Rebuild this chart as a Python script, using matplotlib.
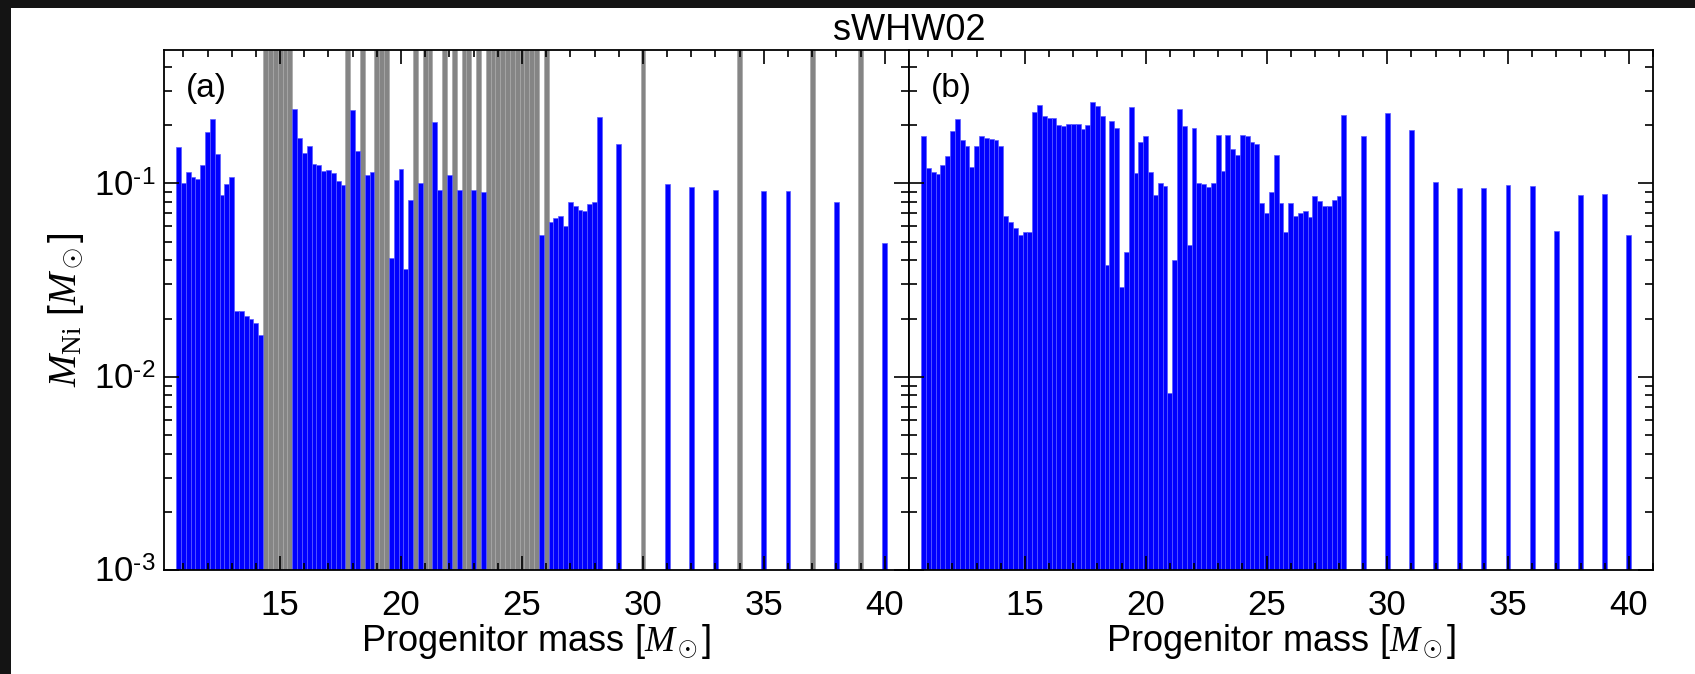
import matplotlib
matplotlib.use('Agg')
import matplotlib.pyplot as plt
from matplotlib.patches import Rectangle
from matplotlib.ticker import MultipleLocator, LogLocator, FuncFormatter, NullFormatter
import numpy as np
import math

plt.rcParams['font.family'] = ['Liberation Sans', 'DejaVu Sans']
plt.rcParams['mathtext.fontset'] = 'custom'
plt.rcParams['mathtext.rm'] = 'Liberation Sans'
plt.rcParams['mathtext.it'] = 'Liberation Serif:italic'
plt.rcParams['mathtext.sf'] = 'Liberation Serif'

# progenitor masses of the sWHW02 series
masses = [10.8, 11.0, 11.2, 11.4, 11.6, 11.8, 12.0, 12.2, 12.4, 12.6,
          12.8, 13.0, 13.2, 13.4, 13.6, 13.8, 14.0, 14.2, 14.4, 14.6,
          14.8, 15.0, 15.2, 15.4, 15.6, 15.8, 16.0, 16.2, 16.4, 16.6,
          16.8, 17.0, 17.2, 17.4, 17.6, 17.8, 18.0, 18.2, 18.4, 18.6,
          18.8, 19.0, 19.2, 19.4, 19.6, 19.8, 20.0, 20.2, 20.4, 20.6,
          20.8, 21.0, 21.2, 21.4, 21.6, 21.8, 22.0, 22.2, 22.4, 22.6,
          22.8, 23.0, 23.2, 23.4, 23.6, 23.8, 24.0, 24.2, 24.4, 24.6,
          24.8, 25.0, 25.2, 25.4, 25.6, 25.8, 26.0, 26.2, 26.4, 26.6,
          26.8, 27.0, 27.2, 27.4, 27.6, 27.8, 28.0, 28.2,
          29, 30, 31, 32, 33, 34, 35, 36, 37, 38, 39, 40]

# (a) Ni mass; None = no explosion (black hole, drawn grey)
ni_a = [0.155, 0.100, 0.114, 0.108, 0.106, 0.125, 0.184, 0.216, 0.142, 0.087,
        0.099, 0.108, 0.022, 0.022, 0.0205, 0.020, 0.019, 0.0165, None, None,
        None, None, None, None, 0.243, 0.172, 0.143, 0.157, 0.126, 0.124,
        0.116, 0.118, 0.113, 0.103, 0.098, None, 0.240, 0.147, None, 0.110,
        0.115, None, None, None, 0.041, 0.104, 0.119, 0.036, 0.082, None,
        0.100, None, None, 0.207, 0.093, None, 0.110, None, 0.092, None,
        None, 0.092, None, 0.090, None, None, None, None, None, None,
        None, None, None, None, None, 0.054, None, 0.063, 0.066, 0.068,
        0.060, 0.080, 0.076, 0.073, 0.072, 0.078, 0.080, 0.220,
        0.159, None, 0.099, 0.096, 0.093, None, 0.091, 0.091, None, 0.080, None, 0.049]

# (b) all models explode
ni_b = [0.175, 0.120, 0.114, 0.112, 0.125, 0.138, 0.186, 0.216, 0.168, 0.157,
        0.121, 0.157, 0.175, 0.171, 0.170, 0.167, 0.157, 0.068, 0.063, 0.059,
        0.054, 0.056, 0.056, 0.234, 0.256, 0.224, 0.218, 0.217, 0.201, 0.198,
        0.203, 0.203, 0.203, 0.191, 0.201, 0.265, 0.250, 0.224, 0.038, 0.211,
        0.193, 0.029, 0.044, 0.249, 0.113, 0.164, 0.175, 0.114, 0.087, 0.100,
        0.097, 0.0082, 0.040, 0.243, 0.197, 0.048, 0.194, 0.100, 0.099, 0.096,
        0.100, 0.179, 0.116, 0.179, 0.151, 0.141, 0.177, 0.175, 0.164, 0.160,
        0.079, 0.070, 0.090, 0.140, 0.079, 0.056, 0.079, 0.068, 0.070, 0.072,
        0.067, 0.086, 0.081, 0.076, 0.076, 0.082, 0.086, 0.226,
        0.176, 0.231, 0.189, 0.102, 0.095, 0.095, 0.098, 0.097, 0.057, 0.087, 0.088, 0.054]

ymin, ymax = 1e-3, 0.49
xlo, xhi = 10.2, 41.0

fig = plt.figure(figsize=(16.95, 6.74), dpi=100, facecolor='#141414')
fig.patches.append(Rectangle((11 / 1695, 0), 1, 1 - 8 / 674, transform=fig.transFigure,
                             facecolor='white', edgecolor='none', zorder=-10))

ax_a = fig.add_axes([164 / 1695, 1 - 570 / 674, 745 / 1695, 520 / 674])
ax_b = fig.add_axes([909 / 1695, 1 - 570 / 674, 744 / 1695, 520 / 674])


def decade_label(y, pos):
    # IDL style: 10 with a short hyphen in the exponent
    return '10$^{\u2010%d}$' % round(-math.log10(y))


def draw_panel(ax, vals, label):
    ok_m = [m for m, v in zip(masses, vals) if v is not None]
    ok_v = [v for v in vals if v is not None]
    bh_m = [m for m, v in zip(masses, vals) if v is None]
    ax.set_yscale('log')
    if bh_m:
        ax.bar(bh_m, 1.0 - ymin, bottom=ymin, width=0.2, color='#858585',
               edgecolor='#a8a8a8', linewidth=0.5)
    ax.bar(ok_m, np.array(ok_v) - ymin, bottom=ymin, width=0.2, color='#0000ff',
           edgecolor='#5c5cff', linewidth=0.5)
    ax.set_xlim(xlo, xhi)
    ax.set_ylim(ymin, ymax)
    ax.xaxis.set_major_locator(MultipleLocator(5))
    ax.xaxis.set_minor_locator(MultipleLocator(1))
    ax.yaxis.set_major_locator(LogLocator(base=10))
    ax.yaxis.set_minor_locator(LogLocator(base=10, subs=np.arange(2, 10)))
    ax.yaxis.set_major_formatter(FuncFormatter(decade_label))
    ax.yaxis.set_minor_formatter(NullFormatter())
    ax.tick_params(which='both', direction='in', top=True, right=True, width=1.2,
                   labelsize=25, colors='black')
    ax.tick_params(axis='x', which='major', length=10, pad=14)
    ax.tick_params(axis='x', which='minor', length=5)
    ax.tick_params(axis='y', which='major', length=11, pad=6)
    ax.tick_params(axis='y', which='minor', length=6)
    for s in ax.spines.values():
        s.set_linewidth(1.3)
    ax.set_xlabel(r'Progenitor mass [$M_\odot$]', fontsize=26, labelpad=0)
    ax.text(0.03, 0.955, label, transform=ax.transAxes, fontsize=24, va='top', ha='left')


draw_panel(ax_a, ni_a, '(a)')
draw_panel(ax_b, ni_b, '(b)')
ax_b.tick_params(axis='y', which='both', labelleft=False)
ax_a.set_ylabel(r'$M_{\mathsf{Ni}}$ [$M_\odot$]', fontsize=28, labelpad=6)

fig.text(909 / 1695, 1 - 30 / 674, 'sWHW02', ha='center', va='center', fontsize=26)

fig.savefig('out.png', dpi=100, facecolor=fig.get_facecolor())
